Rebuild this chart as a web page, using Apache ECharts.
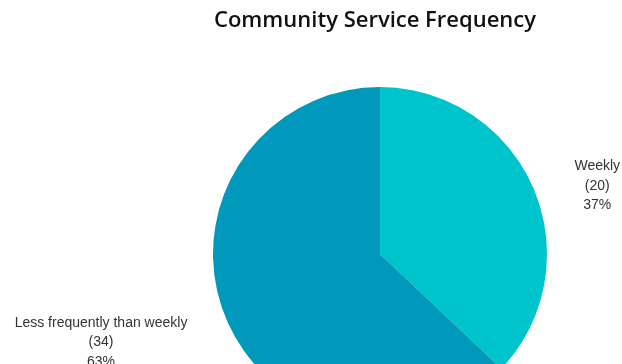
<!DOCTYPE html>
<html>
<head>
<meta charset="utf-8">
<script src="https://cdn.jsdelivr.net/npm/echarts@6/dist/echarts.min.js"></script>
<style>
  html, body { margin: 0; padding: 0; background: #fff; }
  #chart { width: 622px; height: 364px; }
</style>
</head>
<body>
<div id="chart"></div>
<script>
// Survey answers: how often respondents do community service
const categories = ['Weekly', 'Less frequently than weekly'];
const counts = [20, 34];
const colors = ['#00C4CC', '#0099BB'];

const chart = echarts.init(document.getElementById('chart'), null, { renderer: 'canvas' });

const LINE_H = 19.5;

chart.setOption({
  animation: false,
  title: {
    text: 'Community Service Frequency',
    left: 209,
    top: 5,
    textStyle: {
      fontFamily: 'Open Sans',
      fontWeight: 600,
      fontSize: 22,
      color: '#111'
    }
  },
  series: [{
    type: 'pie',
    center: [380, 254],
    radius: 167,
    startAngle: 90,
    clockwise: true,
    data: categories.map((name, i) => ({
      name,
      value: counts[i],
      itemStyle: { color: colors[i] }
    })),
    label: {
      show: true,
      position: 'outside',
      overflow: 'none',
      formatter: p => `{t|${p.name}}\n{t|(${p.value})}\n{t|${Math.round(p.percent)}%}`,
      rich: {
        t: {
          fontFamily: 'Liberation Sans',
          fontSize: 14,
          lineHeight: LINE_H,
          color: '#333',
          align: 'center'
        }
      }
    },
    labelLine: { show: false, length: 9, length2: 26 },
    // lower-half labels hang below their anchor; upper ones sit a touch further out
    labelLayout: function (params) {
      const r = params.labelRect;
      if (r.y + r.height / 2 > 254) {
        return { dy: r.height / 2 - LINE_H / 2 + 2 };
      }
      return { dx: 5, dy: 1.5 };
    }
  }]
});
</script>
</body>
</html>
